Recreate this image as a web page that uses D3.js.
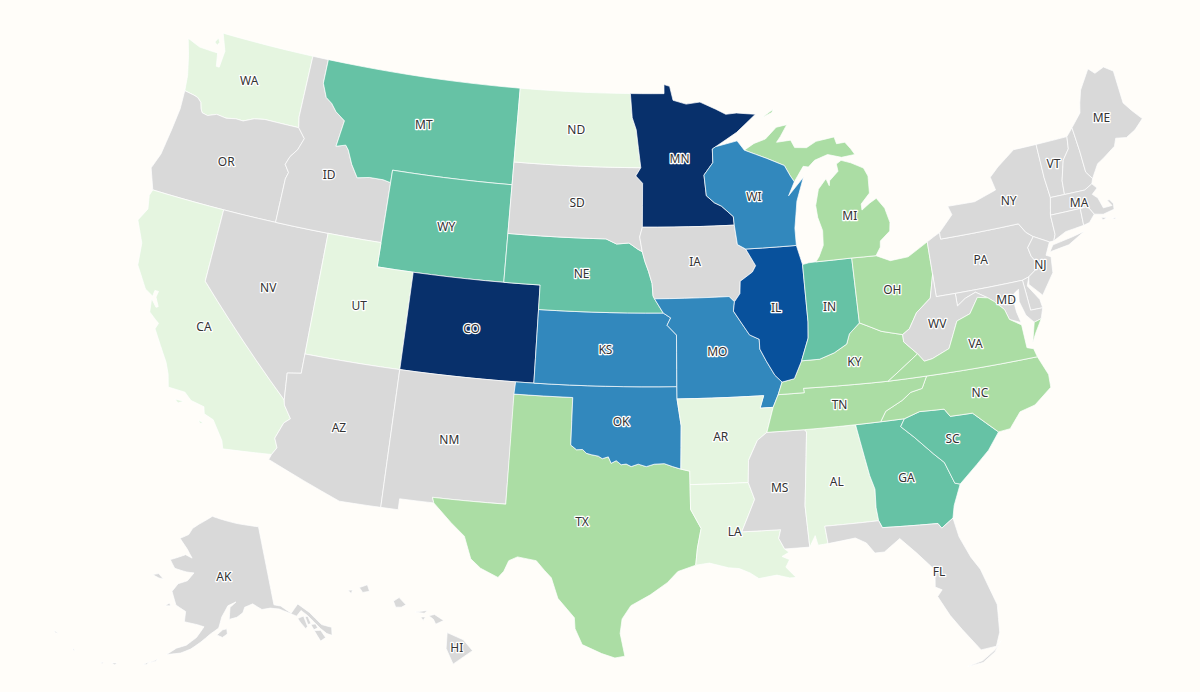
<!DOCTYPE html>
<html>
<head>
<meta charset="utf-8">
<script src="https://cdn.jsdelivr.net/npm/d3@7"></script>
<style>
html, body { margin: 0; padding: 0; background: #fffdf9; }
svg { display: block; }
</style>
</head>
<body>
<div id="map"></div>
<script>
// buckets, anything not listed has no data
const lightest = ['WA', 'CA', 'UT', 'ND', 'AR', 'LA', 'AL']
const light = ['TX', 'MI', 'OH', 'KY', 'TN', 'VA', 'NC']
const teal = ['MT', 'WY', 'NE', 'IN', 'GA', 'SC']
const blue = ['WI', 'KS', 'MO', 'OK']
const darkBlue = ['IL']
const navy = ['CO', 'MN']
const bucketColors = ['#d9d9d9', '#e5f5e0', '#abdda4', '#66c2a5', '#3288bd', '#08519c', '#08306b']
const unlabelled = ['CT', 'RI', 'DE', 'NH']

// TX/OK border, shared by both states
const redRiver = [[-100,34.56],[-99.7,34.38],[-99.4,34.4],[-99.2,34.25],[-98.95,34.2],[-98.6,34.15],[-98.4,34.05],[-98.1,34.13],[-97.95,33.87],[-97.7,33.98],[-97.45,33.82],[-97.2,33.85],[-96.95,33.75],[-96.6,33.85],[-96.2,33.75],[-95.8,33.85],[-95.3,33.87],[-94.9,33.75],[-94.48,33.64]]

// state outlines, lon/lat
const outlines = {
  WA: [[[-122.76,49],[-117.03,49],[-117.04,46.42],[-116.92,45.99],[-118.98,46],[-119.6,45.92],[-120.2,45.72],[-120.65,45.73],[-121.2,45.65],[-121.8,45.7],[-122.3,45.55],[-122.65,45.6],[-122.78,45.75],[-122.9,46],[-123.15,46.15],[-123.4,46.2],[-124,46.27],[-124.1,46.9],[-124.4,47.7],[-124.73,48.38],[-123.9,48.17],[-123.1,48.15],[-122.75,48.15],[-122.6,47.6],[-122.42,47.6],[-122.35,48.3]],
       [[-122.95,48.75],[-122.8,48.6],[-122.9,48.45],[-123.1,48.55]]],
  OR: [[[-124,46.27],[-123.4,46.2],[-123.15,46.15],[-122.9,46],[-122.78,45.75],[-122.65,45.6],[-122.3,45.55],[-121.8,45.7],[-121.2,45.65],[-120.65,45.73],[-120.2,45.72],[-119.6,45.92],[-118.98,46],[-116.92,45.99],[-116.46,45.6],[-116.7,45.1],[-117.05,44.75],[-117.22,44.4],[-116.93,44.1],[-117.03,43.83],[-117.03,42],[-120,42],[-124.1,42],[-124.55,42.84],[-124.25,43.5],[-124.07,44.6],[-123.95,45.5]]],
  CA: [[[-124.1,42],[-120,42],[-120,39],[-114.63,35],[-114.57,34.8],[-114.14,34.3],[-114.43,34.08],[-114.72,33.4],[-114.52,33.03],[-114.72,32.72],[-117.12,32.53],[-117.25,32.85],[-117.9,33.6],[-118.4,33.75],[-118.5,34.03],[-119.2,34.15],[-119.6,34.42],[-120.47,34.45],[-120.65,34.97],[-120.9,35.4],[-121.9,36.6],[-121.8,36.85],[-122,36.96],[-122.4,37.2],[-122.5,37.75],[-122.15,37.45],[-122.05,37.5],[-122.3,37.85],[-122.25,38.1],[-122.45,38.1],[-122.48,37.85],[-122.95,38.05],[-123.7,38.9],[-123.83,39.8],[-124.4,40.65],[-124.05,41.2],[-124.2,41.75]],
       [[-120,34.05],[-119.55,34.05],[-119.8,33.92]],
       [[-118.6,33.45],[-118.35,33.38],[-118.5,33.32]]],
  NV: [[[-120,42],[-117.03,42],[-114.04,42],[-114.04,37],[-114.04,36.2],[-114.75,36.1],[-114.63,35],[-120,39]]],
  ID: [[[-117.03,49],[-116.05,49],[-116.05,48],[-115.7,47.45],[-115.3,47.25],[-114.95,46.95],[-114.35,46.65],[-114.55,45.56],[-114,45.68],[-113.8,45.5],[-113.45,44.95],[-113,44.45],[-112.3,44.55],[-111.5,44.55],[-111.05,44.48],[-111.05,42],[-114.04,42],[-117.03,42],[-117.03,43.83],[-116.93,44.1],[-117.22,44.4],[-117.05,44.75],[-116.7,45.1],[-116.46,45.6],[-116.92,45.99],[-117.04,46.42]]],
  MT: [[[-116.05,49],[-104.05,49],[-104.05,45],[-111.05,45],[-111.05,44.48],[-111.5,44.55],[-112.3,44.55],[-113,44.45],[-113.45,44.95],[-113.8,45.5],[-114,45.68],[-114.55,45.56],[-114.35,46.65],[-114.95,46.95],[-115.3,47.25],[-115.7,47.45],[-116.05,48]]],
  WY: [[[-111.05,45],[-104.05,45],[-104.05,41],[-111.05,41]]],
  UT: [[[-114.04,42],[-111.05,42],[-111.05,41],[-109.05,41],[-109.05,37],[-114.04,37]]],
  CO: [[[-109.05,41],[-102.05,41],[-102.05,37],[-109.05,37]]],
  AZ: [[[-114.04,37],[-109.05,37],[-109.05,31.33],[-111.07,31.33],[-114.81,32.5],[-114.72,32.72],[-114.52,33.03],[-114.72,33.4],[-114.43,34.08],[-114.14,34.3],[-114.57,34.8],[-114.63,35],[-114.75,36.1],[-114.04,36.2]]],
  NM: [[[-109.05,37],[-103,37],[-103.04,32],[-106.62,32],[-106.53,31.78],[-108.2,31.78],[-108.2,31.33],[-109.05,31.33]]],
  TX: [[[-103.04,36.5],[-100,36.5],...redRiver,[-94.04,33.55],[-94.04,33],[-94.04,31.99],[-93.55,31.2],[-93.75,30.4],[-93.85,29.7],[-94.7,29.45],[-95.2,29],[-96,28.5],[-96.9,28.05],[-97.3,27.5],[-97.38,26.9],[-97.15,25.96],[-97.6,25.88],[-98.2,26.05],[-99.1,26.4],[-99.45,27.05],[-99.5,27.5],[-100.3,28.27],[-100.65,29.1],[-101,29.4],[-101.4,29.77],[-102.3,29.88],[-102.7,29.7],[-102.9,29.25],[-103.15,28.98],[-104,29.3],[-104.5,29.65],[-104.9,30.55],[-105.6,31.05],[-106.53,31.78],[-106.62,32],[-103.04,32]]],
  OK: [[[-103,37],[-102.05,37],[-94.62,37],[-94.62,36.5],[-94.43,35.4],...redRiver.slice().reverse(),[-100,36.5],[-103.04,36.5]]],
  KS: [[[-102.05,40],[-95.3,40],[-94.9,39.8],[-95.1,39.5],[-94.6,39.1],[-94.62,37],[-102.05,37]]],
  NE: [[[-104.05,43],[-98.5,43],[-97.9,42.8],[-97.2,42.85],[-96.7,42.6],[-96.45,42.5],[-96.3,42.1],[-96.1,41.7],[-95.9,41.2],[-95.85,40.7],[-95.77,40.58],[-95.3,40],[-102.05,40],[-102.05,41],[-104.05,41]]],
  SD: [[[-104.05,45.94],[-96.56,45.94],[-96.85,45.6],[-96.45,45.3],[-96.45,43.5],[-96.6,43.1],[-96.45,42.5],[-96.7,42.6],[-97.2,42.85],[-97.9,42.8],[-98.5,43],[-104.05,43],[-104.05,45]]],
  ND: [[[-104.05,49],[-97.23,49],[-97.1,48],[-96.85,47.5],[-96.56,45.94],[-104.05,45.94]]],
  MN: [[[-97.23,49],[-95.15,49],[-95.15,49.38],[-94.8,49.3],[-94.6,48.72],[-93.8,48.55],[-92.95,48.62],[-92,48.3],[-91.4,48.07],[-90.75,48.1],[-89.6,48],[-90.8,47.3],[-92.1,46.75],[-92.3,46.66],[-92.3,46.1],[-92.85,45.6],[-92.75,44.75],[-92.3,44.45],[-91.9,44.3],[-91.25,43.85],[-91.22,43.5],[-96.45,43.5],[-96.45,45.3],[-96.85,45.6],[-96.56,45.94],[-96.85,47.5],[-97.1,48]]],
  IA: [[[-96.45,43.5],[-91.22,43.5],[-91.1,42.7],[-90.65,42.5],[-90.15,41.8],[-90.35,41.55],[-91.05,41.2],[-91.1,40.7],[-91.42,40.38],[-91.7,40.6],[-95.77,40.58],[-95.85,40.7],[-95.9,41.2],[-96.1,41.7],[-96.3,42.1],[-96.45,42.5],[-96.6,43.1]]],
  MO: [[[-95.77,40.58],[-91.7,40.6],[-91.42,40.38],[-91.5,40],[-91.1,39.5],[-90.7,39],[-90.2,38.8],[-90.2,38.4],[-89.9,37.9],[-89.5,37.3],[-89.15,37],[-89.4,36.5],[-89.7,36],[-90.37,36],[-90.15,36.5],[-94.62,36.5],[-94.62,37],[-94.6,39.1],[-95.1,39.5],[-94.9,39.8],[-95.3,40]]],
  AR: [[[-94.62,36.5],[-90.15,36.5],[-90.37,36],[-89.7,36],[-90.1,35],[-90.6,34.7],[-91.1,33.9],[-91.17,33],[-94.04,33],[-94.04,33.55],[-94.48,33.64],[-94.43,35.4]]],
  LA: [[[-94.04,33],[-91.17,33],[-90.9,32.3],[-91.6,31],[-89.73,31],[-89.85,30.65],[-89.6,30.2],[-89.4,30.05],[-89.75,29.9],[-89.4,29.75],[-89.6,29.45],[-89.15,29],[-89.45,29],[-90.05,29.15],[-90.9,29.05],[-91.3,29.3],[-91.8,29.5],[-92.3,29.55],[-93.2,29.77],[-93.85,29.7],[-93.75,30.4],[-93.55,31.2],[-94.04,31.99]]],
  MS: [[[-90.1,35],[-88.2,35],[-88.1,34.9],[-88.47,31.9],[-88.4,30.2],[-89.6,30.2],[-89.85,30.65],[-89.73,31],[-91.6,31],[-90.9,32.3],[-91.17,33],[-91.1,33.9],[-90.6,34.7]]],
  AL: [[[-88.2,35],[-85.6,35],[-85.18,32.87],[-85,32.3],[-85.05,31.55],[-85,31],[-87.6,31],[-87.52,30.28],[-88,30.25],[-88.1,30.65],[-88.4,30.2],[-88.47,31.9],[-88.1,34.9]]],
  GA: [[[-85.6,35],[-84.32,35],[-83.11,35],[-83.35,34.7],[-82.75,34.2],[-81.9,33.4],[-81.45,33],[-81.1,32.1],[-80.85,32.03],[-81.3,31.2],[-81.45,30.7],[-82.05,30.36],[-82.2,30.57],[-84.86,30.7],[-85,31],[-85.05,31.55],[-85,32.3],[-85.18,32.87]]],
  FL: [[[-87.6,31],[-85,31],[-84.86,30.7],[-82.2,30.57],[-82.05,30.36],[-81.45,30.7],[-81.3,29.9],[-80.9,29],[-80.55,28.45],[-80.05,26.9],[-80.15,25.75],[-80.4,25.2],[-81.1,25.15],[-81.8,26.1],[-82.25,26.75],[-82.7,27.6],[-82.45,27.85],[-82.75,28],[-82.65,28.7],[-83.4,29.5],[-84.1,30.17],[-84.9,29.7],[-85.35,29.7],[-85.7,30.15],[-86.2,30.4],[-87.52,30.28]],
       [[-80.15,25.4],[-80.5,25.05],[-81.1,24.7],[-81.8,24.55],[-81.1,24.62],[-80.5,24.98],[-80.25,25.3]]],
  SC: [[[-83.35,34.7],[-83.11,35],[-82.3,35.2],[-81.05,35.15],[-80.8,34.82],[-79.67,34.8],[-78.55,33.86],[-79.2,33.2],[-79.9,32.7],[-80.85,32.03],[-81.1,32.1],[-81.45,33],[-81.9,33.4],[-82.75,34.2]]],
  NC: [[[-84.32,35],[-83.11,35],[-82.3,35.2],[-81.05,35.15],[-80.8,34.82],[-79.67,34.8],[-78.55,33.86],[-77.95,33.9],[-77.3,34.5],[-76.5,34.65],[-75.53,35.22],[-75.5,35.75],[-75.87,36.55],[-81.68,36.59],[-82,36.12],[-82.6,36.03],[-83.1,35.75],[-84,35.4]]],
  TN: [[[-90.1,35],[-89.7,36],[-89.4,36.5],[-88.05,36.5],[-88.07,36.68],[-83.68,36.6],[-81.68,36.59],[-82,36.12],[-82.6,36.03],[-83.1,35.75],[-84,35.4],[-84.32,35],[-85.6,35],[-88.2,35]]],
  KY: [[[-89.4,36.5],[-89.15,37],[-88.5,37.1],[-88.05,37.8],[-87.1,37.8],[-86.3,38],[-85.6,38.3],[-85.4,38.7],[-84.8,39.1],[-84.3,38.9],[-83.7,38.65],[-82.6,38.4],[-82.6,38.1],[-81.97,37.54],[-83.68,36.6],[-88.07,36.68],[-88.05,36.5]]],
  IL: [[[-90.65,42.5],[-87.8,42.5],[-87.55,41.7],[-87.53,39.35],[-87.6,38.7],[-88.05,37.8],[-88.5,37.1],[-89.15,37],[-89.5,37.3],[-89.9,37.9],[-90.2,38.4],[-90.2,38.8],[-90.7,39],[-91.1,39.5],[-91.5,40],[-91.42,40.38],[-91.1,40.7],[-91.05,41.2],[-90.35,41.55],[-90.15,41.8]]],
  IN: [[[-87.55,41.7],[-87.2,41.75],[-86.8,41.76],[-84.8,41.76],[-84.8,39.1],[-85.4,38.7],[-85.6,38.3],[-86.3,38],[-87.1,37.8],[-88.05,37.8],[-87.6,38.7],[-87.53,39.35]]],
  OH: [[[-84.8,41.76],[-83.45,41.73],[-82.7,41.45],[-81.7,41.5],[-80.52,41.98],[-80.52,40.64],[-80.85,39.7],[-81.7,39.2],[-82.2,38.6],[-82.6,38.4],[-83.7,38.65],[-84.3,38.9],[-84.8,39.1]]],
  MI: [[[-86.8,41.76],[-84.8,41.76],[-83.45,41.73],[-83.15,42.05],[-83.1,42.3],[-82.5,42.65],[-82.42,43],[-82.6,43.6],[-83,44.05],[-83.4,43.9],[-83.9,43.65],[-83.9,43.9],[-83.35,44.3],[-83.3,45],[-83.5,45.35],[-84.2,45.63],[-84.75,45.78],[-85.05,45.65],[-85,45.35],[-85.55,45],[-85.6,44.8],[-85.75,45.1],[-86.25,44.7],[-86.5,44.05],[-86.45,43.55],[-86.25,43],[-86.3,42.4],[-86.6,41.95]],
       [[-90.4,46.55],[-89.8,46.8],[-89.1,46.95],[-88.4,47.4],[-87.75,47.47],[-88.2,47],[-88.45,46.78],[-87.6,46.82],[-87.4,46.5],[-86.7,46.45],[-86.1,46.67],[-85,46.77],[-84.9,46.48],[-84.4,46.5],[-84.1,46.2],[-83.9,45.95],[-84.7,45.9],[-85.5,46.08],[-86.3,45.9],[-86.7,45.65],[-87,45.7],[-87.6,45.1],[-87.8,45.35],[-88.1,45.8],[-89.1,46.15]],
       [[-89.2,47.85],[-88.5,48.15],[-88.6,48.02]]],
  WI: [[[-92.1,46.75],[-90.8,46.95],[-90.4,46.55],[-89.1,46.15],[-88.1,45.8],[-87.8,45.35],[-87.6,45.1],[-88,44.55],[-87.05,45.25],[-87.55,44.3],[-87.8,43.2],[-87.8,42.5],[-90.65,42.5],[-91.1,42.7],[-91.22,43.5],[-91.25,43.85],[-91.9,44.3],[-92.3,44.45],[-92.75,44.75],[-92.85,45.6],[-92.3,46.1],[-92.3,46.66]]],
  PA: [[[-80.52,41.98],[-80.1,42.15],[-79.76,42.27],[-79.76,42],[-75.35,42],[-75.05,41.6],[-74.7,41.36],[-75.13,40.97],[-75.05,40.6],[-74.72,40.15],[-75.42,39.8],[-75.79,39.72],[-79.48,39.72],[-80.52,39.72],[-80.52,40.64]]],
  NY: [[[-79.76,42],[-75.35,42],[-75.05,41.6],[-74.7,41.36],[-73.9,41],[-73.65,41],[-73.5,41.25],[-73.5,42.05],[-73.27,42.75],[-73.35,43.6],[-73.35,45],[-74.7,45],[-75.8,44.45],[-76.35,44.1],[-76.2,43.55],[-77.5,43.25],[-79.05,43.27],[-78.9,42.9],[-79.76,42.27]],
       [[-74,40.6],[-73.75,40.85],[-72.6,40.98],[-71.9,41.08],[-72.9,40.7]]],
  VT: [[[-73.35,45],[-71.5,45],[-71.6,44.5],[-72.05,44.1],[-72.4,43.3],[-72.46,42.73],[-73.27,42.75],[-73.35,43.6]]],
  NH: [[[-71.5,45],[-71.08,45.3],[-71,44.3],[-70.98,43.4],[-70.7,43.07],[-70.82,42.87],[-71.3,42.7],[-72.46,42.73],[-72.4,43.3],[-72.05,44.1],[-71.6,44.5]]],
  ME: [[[-71.08,45.3],[-70.4,45.8],[-70.25,46.2],[-70,46.7],[-69.23,47.46],[-68.9,47.2],[-68.3,47.35],[-67.8,47.07],[-67.8,45.7],[-67.45,45.3],[-67,44.85],[-67.6,44.5],[-68.2,44.3],[-68.8,44.4],[-69,44.1],[-69.8,43.75],[-70.2,43.6],[-70.7,43.07],[-70.98,43.4],[-71,44.3]]],
  MA: [[[-73.5,42.05],[-71.8,42.02],[-71.38,42.02],[-71.13,41.65],[-70.65,41.55],[-70,41.63],[-69.95,41.85],[-70.1,42.05],[-70.25,42.07],[-70.05,41.8],[-70.55,41.8],[-70.7,42.25],[-70.95,42.45],[-70.6,42.65],[-70.82,42.87],[-71.3,42.7],[-72.46,42.73],[-73.27,42.75]],
       [[-70.8,41.45],[-70.5,41.38],[-70.75,41.33]],
       [[-70.25,41.3],[-69.98,41.28],[-70.1,41.24]]],
  CT: [[[-73.5,42.05],[-71.8,42.02],[-71.85,41.32],[-72.9,41.25],[-73.65,41],[-73.5,41.25]]],
  RI: [[[-71.8,42.02],[-71.38,42.02],[-71.13,41.65],[-71.5,41.37],[-71.85,41.32]]],
  NJ: [[[-74.7,41.36],[-73.9,41],[-74.25,40.5],[-74,40.4],[-74.1,39.75],[-74.9,38.95],[-75.5,39.5],[-75.42,39.8],[-74.72,40.15],[-75.05,40.6],[-75.13,40.97]]],
  DE: [[[-75.79,39.72],[-75.42,39.8],[-75.6,39.45],[-75.1,38.8],[-75.05,38.45],[-75.7,38.46]]],
  MD: [[[-79.48,39.72],[-75.79,39.72],[-75.7,38.46],[-75.05,38.45],[-75.25,38.03],[-75.65,37.95],[-76,38.3],[-76.2,38.9],[-76.1,39.4],[-76.5,39.2],[-76.45,38.5],[-76.33,38.05],[-76.9,38.27],[-77.05,38.7],[-77.5,39.1],[-77.8,39.3],[-78.4,39.62],[-79,39.45],[-79.48,39.2]]],
  WV: [[[-80.52,40.64],[-80.52,39.72],[-79.48,39.72],[-79.48,39.2],[-79,39.45],[-78.4,39.62],[-77.8,39.3],[-78.35,39.4],[-78.9,38.8],[-79.65,38.6],[-80.3,37.55],[-81.25,37.25],[-81.68,37.2],[-81.97,37.54],[-82.6,38.1],[-82.6,38.4],[-82.2,38.6],[-81.7,39.2],[-80.85,39.7]]],
  VA: [[[-83.68,36.6],[-81.97,37.54],[-81.68,37.2],[-81.25,37.25],[-80.3,37.55],[-79.65,38.6],[-78.9,38.8],[-78.35,39.4],[-77.8,39.3],[-77.5,39.1],[-77.05,38.7],[-76.9,38.27],[-76.33,37.95],[-76.3,37],[-75.97,36.9],[-75.87,36.55],[-81.68,36.59]],
       [[-75.25,38.03],[-75.65,37.95],[-75.95,37.15],[-75.7,37.5]]],
  AK: [[[-141,69.65],[-141,60.3],[-139.5,60],[-137.5,58.9],[-135.5,59.75],[-133.5,58.4],[-131.8,56.6],[-130,55.9],[-130.5,55],[-131.4,55.4],[-132.3,56.2],[-133.2,57.2],[-134.2,58.2],[-135.2,58.9],[-136.5,58.4],[-138,59],[-140,59.7],[-142,60],[-144,60],[-146,60.8],[-148,60.5],[-148.5,59.9],[-150,59.4],[-151.8,59.2],[-151.5,60.6],[-150,61.2],[-152,60.8],[-153.5,59.5],[-154.2,58.2],[-156,57.5],[-158,56.5],[-160,55.6],[-162,55],[-164.8,54.6],[-163,55.5],[-161,56],[-159,57],[-157.5,58.3],[-159,58.5],[-162,58.7],[-162,59.9],[-164.5,60.5],[-165.5,61.5],[-166,62],[-164.8,63],[-162.5,63.5],[-161,64.5],[-163,64.5],[-166.4,64.7],[-168.1,65.6],[-164,66.5],[-162,66.2],[-163.8,67.2],[-166.5,68.3],[-164,68.9],[-163,69.7],[-161,70.3],[-156.6,71.35],[-152,70.85],[-148,70.4],[-144,70]],
       [[-136.4,58.1],[-135,58.2],[-134.8,56.9],[-135.3,56.7],[-136,57.5]],
       [[-134.7,58.1],[-134.1,58],[-133.9,57.1],[-134.6,57.1]],
       [[-134,57],[-133,56.9],[-132.8,56.4],[-133.7,56.3]],
       [[-133.7,56.2],[-132.4,56],[-131.9,55],[-133.1,54.8]],
       [[-154.6,57.4],[-153.4,57.1],[-152.3,57.5],[-152.4,58.1],[-153.3,58]],
       [[-171.8,63.4],[-170,63.2],[-168.8,63.2],[-170.3,63.7]],
       [[-167,60.2],[-165.7,60.3],[-166.1,60.6]],
       [[-167.8,53.3],[-166.3,53.9],[-166.7,53.6]],
       [[-169,52.9],[-167.9,53.4],[-168.3,53]],
       [[-174.9,52.1],[-173.9,52.3],[-174.2,52]],
       [[-176.9,51.7],[-176.4,51.9],[-176.5,51.7]],
       [[177.3,52.1],[177.7,51.9],[177.4,51.85]],
       [[172.5,52.95],[173.4,52.85],[172.9,52.75]]],
  HI: [[[-155.9,20.25],[-155.2,19.95],[-154.8,19.5],[-155.65,18.95],[-155.95,19.6]],
       [[-156.7,20.95],[-156.45,21],[-156.05,20.75],[-156.4,20.6],[-156.5,20.8]],
       [[-158.25,21.55],[-158,21.7],[-157.7,21.4],[-157.9,21.3],[-158.15,21.3]],
       [[-159.75,22.1],[-159.4,22.22],[-159.3,21.95],[-159.6,21.9]],
       [[-157.3,21.1],[-156.75,21.17],[-156.9,21.05]],
       [[-157.05,20.9],[-156.85,20.9],[-156.95,20.75]],
       [[-160.25,21.98],[-160.05,22],[-160.1,21.85]]]
}

const bucketOf = code => {
  const lists = [lightest, light, teal, blue, darkBlue, navy]
  return lists.findIndex(list => list.includes(code)) + 1
}

// long straight borders follow the parallels, so add points along them
const densify = ring => {
  const out = []
  ring.forEach((p, i) => {
    const q = ring[(i + 1) % ring.length]
    const steps = Math.ceil(Math.max(Math.abs(q[0] - p[0]), Math.abs(q[1] - p[1])))
    for (let s = 0; s < steps; s++) {
      out.push([p[0] + (q[0] - p[0]) * s / steps, p[1] + (q[1] - p[1]) * s / steps])
    }
  })
  out.push(out[0])
  return out
}

const toPolygon = ring => {
  let closed = densify(ring)
  if (d3.geoArea({type: 'Polygon', coordinates: [closed]}) > 2 * Math.PI) closed = closed.slice().reverse()
  return [closed]
}

const features = Object.keys(outlines).map(code => ({
  type: 'Feature',
  properties: {code, bucket: bucketOf(code)},
  geometry: {type: 'MultiPolygon', coordinates: outlines[code].map(toPolygon)}
}))

const width = 1200
const height = 692

const projection = d3.geoAlbersUsa()
  .scale(1395)
  .translate([639, 345])

const path = d3.geoPath().projection(projection)

const color = d3.scaleOrdinal().domain(d3.range(7)).range(bucketColors)

const svg = d3.select('#map')
  .append('svg')
  .attr('width', width)
  .attr('height', height)

svg.selectAll('path.state')
  .data(features)
  .enter()
  .append('path')
  .attr('class', 'state')
  .attr('d', path)
  .style('fill', d => color(d.properties.bucket))
  .style('stroke', '#fff')
  .style('stroke-width', 0.7)
  .style('stroke-linejoin', 'round')

const labelled = features.filter(d => !unlabelled.includes(d.properties.code))

// label sits on the biggest piece of the state
const labelAt = d => {
  const polys = d.geometry.coordinates.map(coordinates => ({type: 'Polygon', coordinates}))
  const biggest = polys.reduce((a, b) => path.area(b) > path.area(a) ? b : a)
  const c = path.centroid(biggest)
  return `translate(${c[0]},${c[1]})`
}

svg.selectAll('text.halo')
  .data(labelled)
  .enter()
  .append('text')
  .attr('class', 'halo')
  .attr('transform', labelAt)
  .attr('text-anchor', 'middle')
  .attr('dy', '0.35em')
  .style('font', '12px "Noto Sans"')
  .style('fill', 'none')
  .style('stroke', '#fff')
  .style('stroke-width', 2.5)
  .style('stroke-linejoin', 'round')
  .text(d => d.properties.code)

svg.selectAll('text.label')
  .data(labelled)
  .enter()
  .append('text')
  .attr('class', 'label')
  .attr('transform', labelAt)
  .attr('text-anchor', 'middle')
  .attr('dy', '0.35em')
  .style('font', '12px "Noto Sans"')
  .style('fill', '#333')
  .text(d => d.properties.code)
</script>
</body>
</html>
